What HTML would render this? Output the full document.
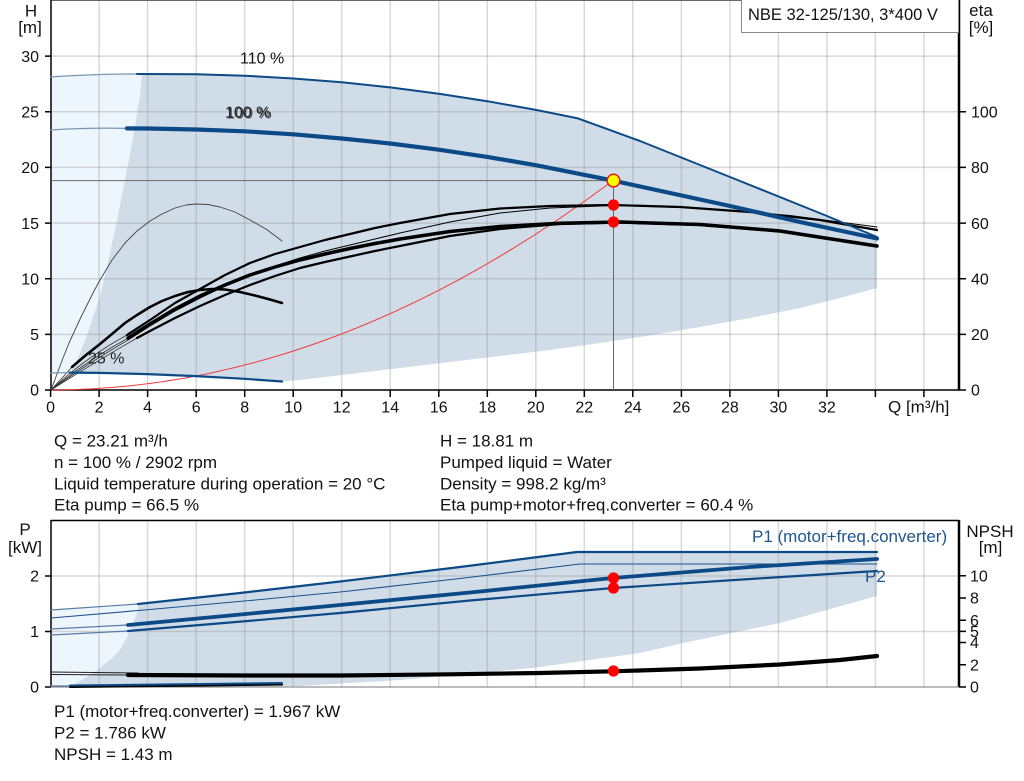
<!DOCTYPE html>
<html><head><meta charset="utf-8"><style>
html,body{margin:0;padding:0;background:#fff;}
svg{display:block;font-family:"Liberation Sans",Arial,sans-serif;}
</style></head><body>
<svg width="1024" height="781" viewBox="0 0 1024 781" xmlns="http://www.w3.org/2000/svg">
<rect x="0" y="0" width="1024" height="781" fill="#fff"/>

<!-- ===== TOP CHART FILLS ===== -->
<path d="M51,76.9 L99,74.8 L142,74 L140,95 L135,127 L125,180 L117,220 L108,262 L100,297 L92,320 L86,338 L80,353 L76,362 L72,372.6 L51,373 Z" fill="#edf5fd"/>
<path d="M142,74 L196.2,74.2 L244.7,75.7 L293.2,78.5 L341.7,82.3 L390.2,87.4 L438.8,93.7 L487.3,101.2 L535.8,109.9 L578,118.4 L640,141 L740,181 L827,216 L877,237 L877,288 L840,298 L800,308 L750,318 L700,327 L650,335.5 L600,343 L550,350 L500,356 L450,362 L400,368 L350,374 L300,380 L282,381.5 L244.7,378.8 L196,376.1 L147.6,374.1 L99,372.9 L72,372.6 L76,362 L80,353 L86,338 L92,320 L100,297 L108,262 L117,220 L125,180 L135,127 L140,95 Z" fill="#d0dce7"/>

<!-- ===== BOTTOM CHART FILLS ===== -->
<path d="M51,610 L138,604 L138,610 L133,624 L127,637 L120,650 L110,660 L90,675 L70,687 L51,687 Z" fill="#edf5fd"/>
<path d="M138,604 L240,593 L340,581.5 L460,567 L577,552 L877,552 L877,596 L780,623 L683,643 L640,653 L533,668 L400,680 L300,686 L200,687 L70,687 L90,675 L110,660 L120,650 L127,637 L133,624 L138,610 Z" fill="#d0dce7"/>

<!-- ===== GRIDLINES ===== -->
<g stroke="rgb(150,150,150)" stroke-opacity="0.36" stroke-width="1.5">
  <path d="M99.1,0V390M147.6,0V390M196.2,0V390M244.7,0V390M293.2,0V390M341.7,0V390M390.2,0V390M438.8,0V390M487.3,0V390M535.8,0V390M584.3,0V390M632.8,0V390M681.4,0V390M729.9,0V390M778.4,0V390M826.9,0V390M875.4,0V390M923.9,0V390"/>
  <path d="M51,334.4H959M51,278.7H959M51,223.1H959M51,167.4H959M51,111.8H959M51,56.1H959"/>
  <path d="M99.1,520V687M147.6,520V687M196.2,520V687M244.7,520V687M293.2,520V687M341.7,520V687M390.2,520V687M438.8,520V687M487.3,520V687M535.8,520V687M584.3,520V687M632.8,520V687M681.4,520V687M729.9,520V687M778.4,520V687M826.9,520V687M875.4,520V687M923.9,520V687"/>
  <path d="M51,631.5H959M51,576H959"/>
</g>

<!-- ===== AXES TOP ===== -->
<g stroke="#000" fill="none">
  <path d="M51,0.5H959" stroke="#666" stroke-width="1"/>
  <path d="M51,0V390" stroke-width="1.5"/>
  <path d="M959,0V390" stroke-width="2.5"/>
  <path d="M50,390H960" stroke-width="1.5"/>
  <path d="M45,390H51M45,334.4H51M45,278.7H51M45,223.1H51M45,167.4H51M45,111.8H51M45,56.1H51" stroke-width="1.5"/>
  <path d="M959,390H966M959,334.4H966M959,278.7H966M959,223.1H966M959,167.4H966M959,111.8H966" stroke-width="1.5"/>
  <path d="M50.6,390V397M99.1,390V397M147.6,390V397M196.2,390V397M244.7,390V397M293.2,390V397M341.7,390V397M390.2,390V397M438.8,390V397M487.3,390V397M535.8,390V397M584.3,390V397M632.8,390V397M681.4,390V397M729.9,390V397M778.4,390V397M826.9,390V397M875.4,390V397M923.9,390V397" stroke-width="1.5"/>
</g>

<!-- ===== AXES BOTTOM ===== -->
<g stroke="#000" fill="none">
  <path d="M51,520.5H959" stroke-width="1.5"/>
  <path d="M51,520V687" stroke-width="1.5"/>
  <path d="M959,520V687" stroke-width="2.5"/>
  <path d="M51,687H959" stroke="#777" stroke-width="1"/>
  <path d="M45,687H51M45,631.5H51M45,576H51" stroke-width="1.5"/>
  <path d="M959,687H966M959,664.7H966M959,642.5H966M959,631.4H966M959,620.2H966M959,598H966M959,575.7H966" stroke-width="1.5"/>
</g>

<!-- ===== OPERATING POINT GUIDES ===== -->
<path d="M51,180.6H613" stroke="#6a6a6a" stroke-width="1" fill="none"/>
<path d="M613.5,180.6V390" stroke="#6a6a6a" stroke-width="1" fill="none"/>

<!-- system curve -->
<path d="M50.6,390 Q331.8,390 613,180.6" stroke="#f03a3a" stroke-width="1" fill="none"/>

<!-- ===== ETA CURVES (black) ===== -->
<g fill="none" stroke="#000" stroke-linejoin="round" stroke-linecap="round">
  <path d="M51,390 L57,374 L63,358 L69,343 L75,330 L81,317 L88,303 L94,291 L100,280 L112,260 L125,243 L137,231 L150,221 L162,214 L175,208 L186,205 L196,204 L208,204.5 L220,207 L235,212 L250,220 L266,229 L282,241" stroke="#444" stroke-width="0.9"/>
  <path d="M51,390 L72,367" stroke="#333" stroke-width="0.8"/>
  <path d="M72,367 L86,355 L100,344 L112,334 L125,323 L137,315 L150,307 L162,301 L175,296 L188,292 L200,290 L212,289 L225,289.5 L240,292 L255,295.5 L270,299.5 L282,303" stroke-width="2.5"/>
  <path d="M51,390 Q85,358 127,335" stroke="#333" stroke-width="0.8"/>
  <path d="M51,390 Q90,362 128,340" stroke="#333" stroke-width="0.8"/>
  <path d="M51,390 Q88,360 128,338" stroke="#333" stroke-width="0.8"/>
  <path d="M51,390 Q92,364 137,338" stroke="#333" stroke-width="0.8"/>
  <path d="M127,335 L150,320 L175,303 L200,289 L225,275 L250,263 L275,254 L300,247 L325,240 L350,234 L375,228 L400,223 L450,214 L500,208.5 L550,206 L613,205 L680,207 L750,212 L820,220 L877,230" stroke-width="2.2"/>
  <path d="M128,340 L150,326 L175,311 L200,298 L225,286 L250,275 L275,266 L300,258 L325,251 L350,245 L375,239 L400,233 L450,222 L500,213 L550,208 L613,205.5 L700,208 L790,215.5 L877,227" stroke-width="1"/>
  <path d="M128,338 L150,324 L175,309 L200,296 L225,285 L250,275 L275,267 L300,260 L325,254 L350,248.5 L375,243.5 L400,239 L450,231.5 L500,226.5 L560,223.3 L620,222 L700,224.5 L780,231 L877,246" stroke-width="3.5"/>
  <path d="M137,338 L150,331 L175,318 L200,306 L225,295 L250,285 L275,276 L300,268 L325,262 L350,256.5 L375,251 L400,246 L450,236 L500,229 L560,224 L620,222.5 L700,225 L780,231.5 L877,246.5" stroke-width="2.2"/>
</g>

<!-- ===== H CURVES (blue) ===== -->
<g fill="none" stroke-linejoin="round" stroke-linecap="round">
  <path d="M51,76.9 Q95,74 137,74" stroke="#7b95b4" stroke-width="1.3"/>
  <path d="M137,74 L196.2,74.2 L244.7,75.7 L293.2,78.5 L341.7,82.3 L390.2,87.4 L438.8,93.7 L487.3,101.2 L535.8,109.9 L578,118.4 L640,141 L740,181 L827,216 L877,237" stroke="#0c4a87" stroke-width="2"/>
  <path d="M51,130 Q90,127.5 127,128.4" stroke="#7b95b4" stroke-width="1.3"/>
  <path d="M127,128.4 L147.6,128.5 L196.2,129.5 L244.7,131.3 L293.2,134.3 L341.7,138.5 L390.2,143.5 L438.8,149.7 L487.3,156.9 L535.8,165.2 L613,180.6 L730,206 L800,222 L877,238.5" stroke="#0c4a87" stroke-width="4.2"/>
  <path d="M51,373 L70,372.6" stroke="#7b95b4" stroke-width="1.3"/>
  <path d="M70,372.6 L99,372.9 L147.6,374.1 L196,376.1 L244.7,378.8 L282,381.5" stroke="#0c4a87" stroke-width="2.2"/>
</g>

<circle cx="613.5" cy="180.6" r="6.3" fill="#ffff00" stroke="#e8181a" stroke-width="1.5"/>
<circle cx="613.5" cy="205" r="5.6" fill="#ff0000"/>
<circle cx="613.5" cy="222" r="5.6" fill="#ff0000"/>

<!-- ===== BOTTOM CURVES ===== -->
<g fill="none" stroke-linejoin="round" stroke-linecap="round">
  <path d="M51,610 L138,604" stroke="#5a7ea8" stroke-width="1.2"/>
  <path d="M138,604 L240,593 L340,581.5 L460,567 L577,552 L877,552" stroke="#0c4a87" stroke-width="2.2"/>
  <path d="M51,618 L150,609.5 L250,600.5 L340,592 L460,578.5 L580,564 L877,564" stroke="#1d528c" stroke-width="1.1"/>
  <path d="M51,629 L128,625" stroke="#5a7ea8" stroke-width="1.2"/>
  <path d="M128,625 L230,615.5 L340,605 L470,592.5 L613,578 L750,567 L877,559" stroke="#0c4a87" stroke-width="3.8"/>
  <path d="M51,635 L128,631" stroke="#5a7ea8" stroke-width="1.2"/>
  <path d="M128,631 L230,622.5 L340,613 L470,600.5 L613,588 L750,579 L877,571" stroke="#0c4a87" stroke-width="2.2"/>
  <path d="M51,672 L138,673" stroke="#222" stroke-width="1"/>
  <path d="M51,674.5 L128,675" stroke="#222" stroke-width="1"/>
  <path d="M128,675 L250,675.5 L340,675.5 L450,674.3 L540,673 L613,671.3 L700,668.5 L780,664.5 L840,660 L877,656" stroke="#000" stroke-width="4.2"/>
  <path d="M51,686 L70,686" stroke="#5a7ea8" stroke-width="1.2"/>
  <path d="M70,687 L282,684.5" stroke="#000" stroke-width="2"/>
  <path d="M70,685.5 L282,683" stroke="#0c4a87" stroke-width="2"/>
</g>
<circle cx="613.5" cy="578" r="5.6" fill="#ff0000"/>
<circle cx="613.5" cy="588" r="5.6" fill="#ff0000"/>
<circle cx="613.5" cy="671" r="5.6" fill="#ff0000"/>

<!-- ===== LEGEND BOX ===== -->
<rect x="741.5" y="-1" width="217" height="33.5" fill="#fff" stroke="#8a8a8a" stroke-width="1"/>
<text x="748" y="20" font-size="16.5" fill="#111">NBE 32-125/130, 3*400 V</text>

<!-- ===== TEXT TOP CHART ===== -->
<g font-size="17" fill="#111" text-anchor="middle">
  <text x="31" y="16.5">H</text>
  <text x="30" y="33">[m]</text>
  <text x="981" y="16">eta</text>
  <text x="981" y="33">[%]</text>
</g>
<g font-size="16" fill="#111" text-anchor="end">
  <text x="39" y="61.8">30</text>
  <text x="39" y="117.5">25</text>
  <text x="39" y="173.1">20</text>
  <text x="39" y="228.8">15</text>
  <text x="39" y="284.4">10</text>
  <text x="39" y="340.1">5</text>
  <text x="39" y="395.7">0</text>
</g>
<g font-size="16" fill="#111" text-anchor="start">
  <text x="971" y="117.5">100</text>
  <text x="971" y="173.1">80</text>
  <text x="971" y="228.8">60</text>
  <text x="971" y="284.4">40</text>
  <text x="971" y="340.1">20</text>
  <text x="971" y="395.7">0</text>
</g>
<g font-size="16" fill="#111" text-anchor="middle">
  <text x="50.6" y="412.5">0</text>
  <text x="99.1" y="412.5">2</text>
  <text x="147.6" y="412.5">4</text>
  <text x="196.2" y="412.5">6</text>
  <text x="244.7" y="412.5">8</text>
  <text x="293.2" y="412.5">10</text>
  <text x="341.7" y="412.5">12</text>
  <text x="390.2" y="412.5">14</text>
  <text x="438.8" y="412.5">16</text>
  <text x="487.3" y="412.5">18</text>
  <text x="535.8" y="412.5">20</text>
  <text x="584.3" y="412.5">22</text>
  <text x="632.8" y="412.5">24</text>
  <text x="681.4" y="412.5">26</text>
  <text x="729.9" y="412.5">28</text>
  <text x="778.4" y="412.5">30</text>
  <text x="826.9" y="412.5">32</text>
</g>
<text x="888" y="412.5" font-size="17" fill="#111">Q [m³/h]</text>

<text x="240" y="63.5" font-size="16" fill="#111">110 %</text>
<text x="225" y="117.5" font-size="16" fill="#222">100 %</text>
<text x="226.3" y="118.3" font-size="16" fill="#222" fill-opacity="0.8">100 %</text>
<text x="88" y="363.5" font-size="16" fill="#222">25 %</text>

<!-- ===== DATA TEXT ===== -->
<g font-size="17" fill="#111">
  <text x="54" y="446.5">Q = 23.21 m³/h</text>
  <text x="54" y="468">n = 100 % / 2902 rpm</text>
  <text x="54" y="489.3">Liquid temperature during operation = 20 °C</text>
  <text x="54" y="510.5">Eta pump = 66.5 %</text>
  <text x="440" y="446.5">H = 18.81 m</text>
  <text x="440" y="468">Pumped liquid = Water</text>
  <text x="440" y="489.3">Density = 998.2 kg/m³</text>
  <text x="440" y="510.5">Eta pump+motor+freq.converter = 60.4 %</text>
  <text x="54" y="717">P1 (motor+freq.converter) = 1.967 kW</text>
  <text x="54" y="738.5">P2 = 1.786 kW</text>
  <text x="54" y="760">NPSH = 1.43 m</text>
</g>

<!-- ===== TEXT BOTTOM CHART ===== -->
<g font-size="17" fill="#111" text-anchor="middle">
  <text x="25" y="535">P</text>
  <text x="25" y="553">[kW]</text>
  <text x="990" y="537">NPSH</text>
  <text x="990.5" y="553">[m]</text>
</g>
<g font-size="16" fill="#111" text-anchor="end">
  <text x="39" y="581.7">2</text>
  <text x="39" y="637.2">1</text>
  <text x="39" y="692.7">0</text>
</g>
<g font-size="16" fill="#111" text-anchor="start">
  <text x="970" y="581.4">10</text>
  <text x="970" y="603.7">8</text>
  <text x="970" y="625.9">6</text>
  <text x="970" y="637.1">5</text>
  <text x="970" y="648.2">4</text>
  <text x="970" y="670.4">2</text>
  <text x="970" y="692.7">0</text>
</g>
<text x="752" y="542" font-size="17" fill="#1f5590">P1 (motor+freq.converter)</text>
<text x="865" y="582" font-size="17" fill="#1f5590">P2</text>
</svg>
</body></html>
